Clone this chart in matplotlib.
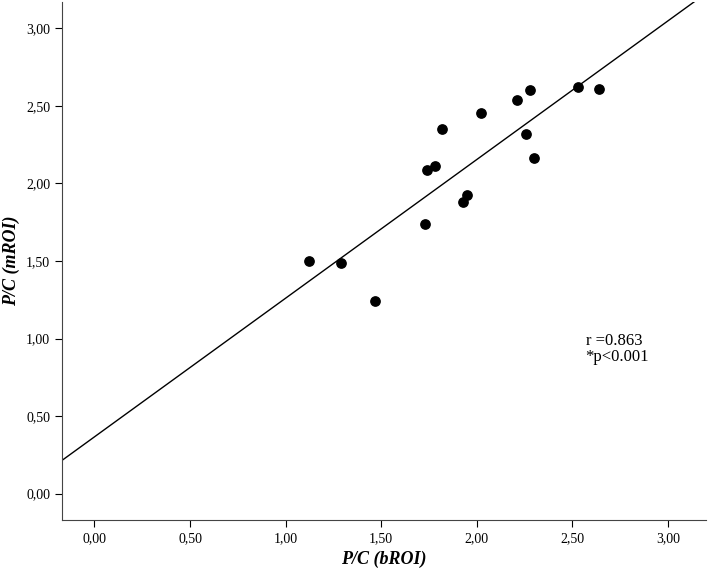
import matplotlib
matplotlib.use("Agg")
import matplotlib.pyplot as plt
import numpy as np

x_vals = [1.12, 1.29, 1.47, 1.74, 1.78, 1.82, 1.73, 1.93, 1.95, 2.02, 2.21, 2.26, 2.28, 2.30, 2.53, 2.64]
y_vals = [1.50, 1.485, 1.24, 2.085, 2.115, 2.35, 1.74, 1.88, 1.925, 2.455, 2.535, 2.32, 2.605, 2.165, 2.62, 2.61]
ticks = [0.0, 0.5, 1.0, 1.5, 2.0, 2.5, 3.0]
tick_labels = ["0,00", "0,50", "1,00", "1,50", "2,00", "2,50", "3,00"]

fig = plt.figure(figsize=(7.14, 5.71), dpi=100)
ax = fig.add_axes([62/714, 51/571, 644/714, 518/571])
ax.scatter(x_vals, y_vals, s=45, color="black", zorder=3)
xmin, xmax = -0.17, 3.2
m, b = np.polyfit(x_vals, y_vals, 1)
xx = np.array([xmin, xmax])
ax.plot(xx, m*xx + b, color="black", lw=1)
ax.set_xlim(xmin, xmax)
ax.set_ylim(-0.17, 3.17)
ax.set_xticks(ticks)
ax.set_xticklabels(tick_labels)
ax.set_yticks(ticks)
ax.set_yticklabels(tick_labels)
for s in ["top", "right"]:
    ax.spines[s].set_visible(False)
for s in ["left", "bottom"]:
    ax.spines[s].set_color("#444444")
ax.tick_params(direction="out", length=5, labelsize=10, colors="black")
for lab in ax.get_xticklabels() + ax.get_yticklabels():
    lab.set_family("Liberation Serif")
ax.set_xlabel("P/C (bROI)", fontsize=13, fontstyle="italic", fontweight="bold", family="Liberation Serif")
ax.set_ylabel("P/C (mROI)", fontsize=13, fontstyle="italic", fontweight="bold", family="Liberation Serif")
ax.text(2.57, 0.93, "r =0.863\n*p<0.001", fontsize=12, family="Liberation Serif", va="center", linespacing=1.0)
fig.savefig("out.png", dpi=100)
